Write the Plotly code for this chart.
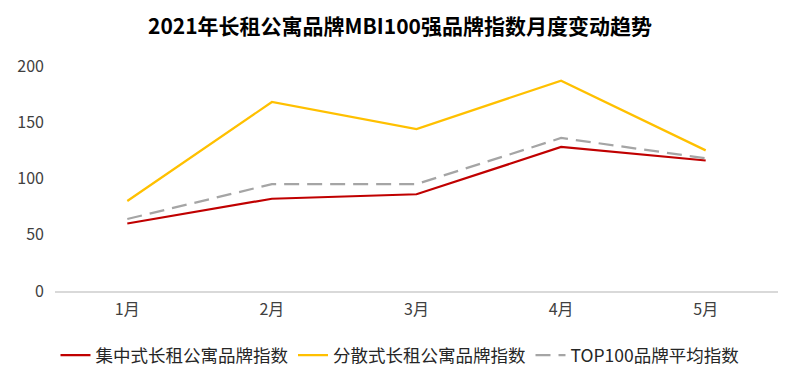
import plotly.graph_objects as go

months = ["1月", "2月", "3月", "4月", "5月"]
central = [60, 82, 86, 128, 116]
scattered = [80, 168, 144, 187, 125]
top100 = [64, 95, 95, 136, 118]

names = ["集中式长租公寓品牌指数", "分散式长租公寓品牌指数", "TOP100品牌平均指数"]

font_family = "Noto Sans CJK SC, Microsoft YaHei, sans-serif"

fig = go.Figure()
fig.add_trace(go.Scatter(x=months, y=central, mode="lines", name=names[0],
                         line=dict(color="#C00000", width=2.25)))
fig.add_trace(go.Scatter(x=months, y=scattered, mode="lines", name=names[1],
                         line=dict(color="#FFC000", width=2.25)))
fig.add_trace(go.Scatter(x=months, y=top100, mode="lines", name=names[2],
                         line=dict(color="#A5A5A5", width=2.25, dash="15px,8px")))

fig.update_layout(
    width=800, height=384,
    paper_bgcolor="white", plot_bgcolor="white",
    margin=dict(l=47, r=30, t=58, b=101, autoexpand=False),
    title=dict(text="<b>2021年长租公寓品牌MBI100强品牌指数月度变动趋势</b>",
               x=(400 - 8) / 800, xanchor="center", y=1 - 19 / 384, yref="container",
               yanchor="middle",
               font=dict(family=font_family, size=21, color="#000000")),
    font=dict(family=font_family, size=16, color="#404040"),
    showlegend=True,
    legend=dict(orientation="h", x=(400 - 8 - 47) / 723, xanchor="center",
                y=-0.205, yanchor="top",
                font=dict(family=font_family, size=17.5, color="#262626"),
                itemwidth=30, tracegroupgap=0),
)
fig.update_xaxes(range=[-0.5, 4.5], showgrid=False, showline=True, linecolor="#D9D9D9",
                 linewidth=1.5, ticks="", tickfont=dict(size=16, color="#404040"),
                 zeroline=False, ticklabelstandoff=3)
fig.update_yaxes(range=[0, 200], dtick=50, showgrid=False, showline=False,
                 zeroline=False, ticks="", tickfont=dict(size=16, color="#404040"),
                 ticklabelstandoff=10)

fig.write_html("out.html")
